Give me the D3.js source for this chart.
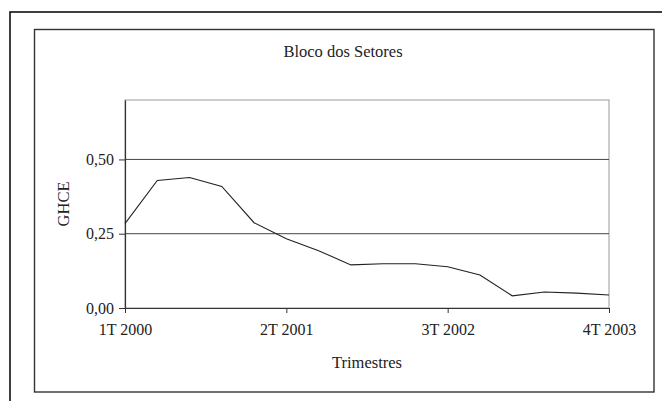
<!DOCTYPE html>
<html>
<head>
<meta charset="utf-8">
<script src="https://cdn.jsdelivr.net/npm/d3@7"></script>
<style>
body { margin: 0; background: #fff; }
svg text { font-family: "Liberation Serif", "Times New Roman", serif; fill: #222; }
</style>
</head>
<body>
<div id="chart"></div>
<script>
var width = 662, height = 401;
// trimestres 1T 2000 .. 4T 2003
var quarters = [];
var years = [2000, 2001, 2002, 2003];
for (var y = 0; y < years.length; y++) {
    for (var q = 1; q <= 4; q++) {
        quarters.push(q + "T " + years[y]);
    }
}
var ghce = [0.284, 0.429, 0.439, 0.409, 0.287, 0.233, 0.193, 0.145,
            0.149, 0.149, 0.139, 0.111, 0.041, 0.054, 0.050, 0.044];
var xTickLabels = ["1T 2000", "2T 2001", "3T 2002", "4T 2003"];
var yTicks = [0, 0.25, 0.50];

var serif = "'Liberation Serif', 'Times New Roman', serif";

var svg = d3.select("#chart").append("svg")
    .attr("width", width).attr("height", height);

// molduras
svg.append("rect")
    .attr("x", 10).attr("y", 12).attr("width", 670).attr("height", 420)
    .attr("fill", "none").attr("stroke", "#111").attr("stroke-width", 1.6);
svg.append("rect")
    .attr("x", 34.5).attr("y", 29.5).attr("width", 619.5).attr("height", 362.5)
    .attr("fill", "none").attr("stroke", "#333").attr("stroke-width", 1.4);

var pLeft = 125, pRight = 609, pTop = 100, pBottom = 308;

var xScale = d3.scalePoint().domain(quarters).range([pLeft, pRight]);
var yScale = d3.scaleLinear().domain([0, 0.70]).range([pBottom, pTop]);

// caixa da área de plotagem
svg.append("rect")
    .attr("x", pLeft).attr("y", pTop).attr("width", pRight - pLeft).attr("height", pBottom - pTop)
    .attr("fill", "none").attr("stroke", "#999").attr("stroke-width", 1);

// linhas de grade
svg.append("g").selectAll("line").data(yTicks.filter(function(d){ return d > 0; }))
    .enter().append("line")
    .attr("x1", pLeft).attr("x2", pRight)
    .attr("y1", function(d){ return yScale(d); })
    .attr("y2", function(d){ return yScale(d); })
    .attr("stroke", "#444").attr("stroke-width", 1);

var fmt = function(d){ return d3.format(".2f")(d).replace(".", ","); };

var yAxis = d3.axisLeft(yScale).tickValues(yTicks).tickFormat(fmt)
    .tickSizeInner(6).tickSizeOuter(0).tickPadding(5);
var gy = svg.append("g").attr("transform", "translate(" + pLeft + ",0)").call(yAxis);

var xAxis = d3.axisBottom(xScale).tickValues(xTickLabels)
    .tickSizeInner(5).tickSizeOuter(0).tickPadding(11);
var gx = svg.append("g").attr("transform", "translate(0," + pBottom + ")").call(xAxis);

[gx, gy].forEach(function(g){
    g.attr("font-family", serif).attr("font-size", 16);
    g.select(".domain").attr("stroke", "#333").attr("stroke-width", 1.2);
    g.selectAll(".tick line").attr("stroke", "#333");
    g.selectAll(".tick text").attr("fill", "#222");
});

// linha da série
var line = d3.line()
    .x(function(d, i){ return xScale(quarters[i]); })
    .y(function(d){ return yScale(d); });
svg.append("path").datum(ghce)
    .attr("d", line)
    .attr("fill", "none").attr("stroke", "#222").attr("stroke-width", 1.1);

// títulos
svg.append("text").attr("x", 343).attr("y", 57)
    .attr("text-anchor", "middle").attr("font-family", serif).attr("font-size", 16.5)
    .text("Bloco dos Setores");
svg.append("text").attr("x", 367).attr("y", 368)
    .attr("text-anchor", "middle").attr("font-family", serif).attr("font-size", 16.5)
    .text("Trimestres");
svg.append("text")
    .attr("transform", "translate(69,204) rotate(-90)")
    .attr("text-anchor", "middle").attr("font-family", serif).attr("font-size", 16.5)
    .text("GHCE");
</script>
</body>
</html>
